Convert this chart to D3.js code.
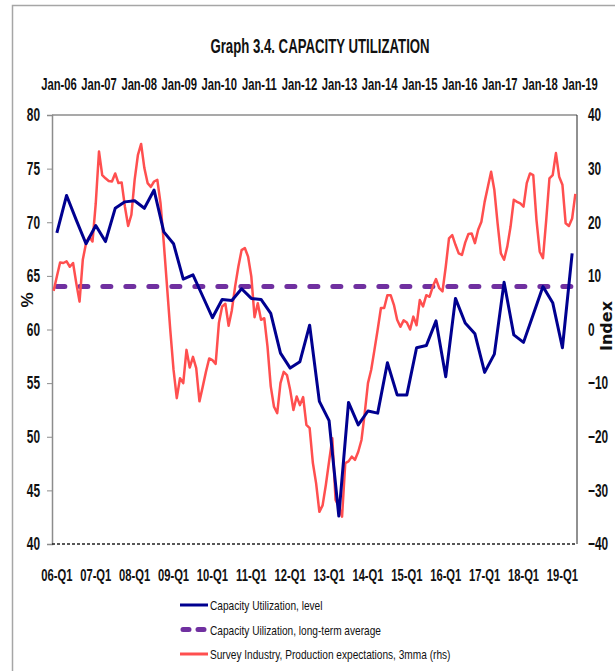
<!DOCTYPE html>
<html lang="en">
<head>
<meta charset="utf-8">
<title>Graph 3.4. Capacity utilization</title>
<script src="https://d3js.org/d3.v7.min.js"></script>
<style>
  body { margin: 0; background: #fff; }
  text { font-family: "Liberation Sans", Arial, sans-serif; fill: #111; }
</style>
</head>
<body>
<div class="chart"></div>
<script>
// quarter and month categories (06-Q1 .. 19-Q2, Jan-06 .. Jun-19)
const quarters = [];
const months = [];
for (let y = 6; y <= 19; y++) {
  const yy = String(y).padStart(2, '0');
  for (let q = 1; q <= 4; q++) quarters.push(yy + '-Q' + q);
  for (let m = 1; m <= 12; m++) months.push(yy + '-' + m);
}
quarters.splice(54);
months.splice(162);

const bottomTicks = ['06-Q1','07-Q1','08-Q1','09-Q1','10-Q1','11-Q1','12-Q1','13-Q1','14-Q1','15-Q1','16-Q1','17-Q1','18-Q1','19-Q1'];
const topTicks = ['Jan-06','Jan-07','Jan-08','Jan-09','Jan-10','Jan-11','Jan-12','Jan-13','Jan-14','Jan-15','Jan-16','Jan-17','Jan-18','Jan-19'];
const leftTicks = [40, 45, 50, 55, 60, 65, 70, 75, 80];
const rightTicks = [-40, -30, -20, -10, 0, 10, 20, 30, 40];

// Capacity utilization, level (%), quarterly
const capacityLevel = [
  69.0, 72.5, 70.2, 68.0, 69.7, 68.2, 71.3, 71.9, 72.0, 71.3, 73.0, 69.1, 68.0, 64.7,
  65.1, 63.1, 61.1, 62.8, 62.7, 63.8, 62.9, 62.8, 61.5, 57.8, 56.4, 57.0, 60.4, 53.3,
  51.5, 42.6, 53.2, 51.1, 52.4, 52.2, 56.9, 53.9, 53.9, 58.3, 58.5, 60.8, 55.6, 62.9,
  60.6, 59.6, 56.0, 57.7, 64.4, 59.5, 58.8, 61.4, 64.0, 62.5, 58.3, 67.1
];
// long-term average (%)
const capacityAverage = 64;

// Survey industry, production expectations, 3mma (index, rhs), monthly
const productionExpectations = [
  7.2, 9.9, 12.5, 12.4, 12.7, 11.7, 12.4, 8.6, 5.2, 13.0, 16.1, 17.3,
  16.4, 23.5, 33.2, 28.8, 28.2, 27.7, 27.6, 29.1, 27.3, 27.4, 22.9, 19.3,
  21.4, 27.9, 32.5, 34.6, 30.1, 27.3, 26.6, 27.6, 27.9, 23.5, 16.1, 8.0,
  -0.1, -7.5, -12.8, -9.1, -10.0, -3.8, -7.1, -5.1, -7.2, -13.4, -10.7, -7.9,
  -5.4, -5.7, -6.4, 1.2, 4.3, 4.8, 0.7, 3.6, 8.0, 11.7, 14.8, 15.2,
  13.6, 9.9, 2.3, 4.9, 1.8, 2.1, -3.2, -10.6, -14.4, -15.6, -10.0, -7.9,
  -8.5, -11.3, -15.0, -12.5, -14.1, -12.6, -17.8, -18.4, -24.9, -28.7, -34.0, -32.8,
  -29.0, -24.6, -20.3, -31.8, -33.0, -34.9, -24.9, -24.6, -23.7, -24.3, -22.8, -20.6,
  -15.6, -10.0, -7.5, -3.8, 0.0, 4.0, 4.0, 6.4, 6.4, 4.6, 1.8, 0.5,
  1.7, 1.3, 0.0, 2.4, 0.8, 5.5, 4.3, 6.4, 6.1, 8.0, 9.4, 7.7,
  7.1, 11.7, 17.0, 17.6, 15.8, 14.2, 13.9, 16.2, 17.8, 17.9, 16.1, 18.6,
  20.1, 23.8, 26.6, 29.4, 26.0, 19.8, 14.2, 13.0, 15.5, 19.2, 24.2, 23.8,
  23.5, 22.9, 27.3, 29.1, 28.8, 20.4, 14.5, 13.3, 20.4, 28.2, 28.8, 32.9,
  28.5, 27.0, 19.8, 19.3, 20.7, 25.3
];

const width = 615;
const height = 671;
const plot = {left: 52, right: 577, top: 115, bottom: 544};
const SX = 0.66;   // text in the original is squeezed horizontally
const SXL = 0.75;  // legend text

const svg = d3.select('.chart')
  .append('svg')
  .attr('width', width)
  .attr('height', height);

const xQ = d3.scaleBand().domain(quarters).range([plot.left, plot.right]);
const xM = d3.scaleBand().domain(months).range([plot.left, plot.right]);
const xTop = d3.scalePoint().domain(topTicks).range([59, 580]);
const yL = d3.scaleLinear().domain([40, 80]).range([plot.bottom, plot.top]);
const yR = d3.scaleLinear().domain([-40, 40]).range([plot.bottom, plot.top]);

function addText(x, y, str, size, weight, anchor, sx) {
  return svg.append('text')
    .attr('transform', `translate(${x},${y}) scale(${sx || SX},1)`)
    .attr('text-anchor', anchor || 'start')
    .style('font-size', size + 'px')
    .style('font-weight', weight || 'normal')
    .text(str);
}

function styleTicks(sel) {
  sel.attr('transform', `scale(${SX},1)`)
    .style('font-weight', 'bold')
    .style('font-family', '"Liberation Sans", Arial, sans-serif')
    .attr('fill', '#111');
}

// outer frame
svg.append('path')
  .attr('d', 'M12.5,671V5.5H615')
  .attr('fill', 'none')
  .attr('stroke', '#a6a6a6')
  .attr('stroke-width', 1.5);

addText(320, 53, 'Graph 3.4. CAPACITY UTILIZATION', 20, 'bold', 'middle');

// top labels
topTicks.forEach(t => addText(xTop(t), 90, t, 17, 'bold', 'middle'));

// plot frame: top gray, right dark
svg.append('line')
  .attr('x1', plot.left).attr('x2', plot.right)
  .attr('y1', plot.top).attr('y2', plot.top)
  .attr('stroke', '#8c8c8c').attr('stroke-width', 1.5);
svg.append('line')
  .attr('x1', plot.right).attr('x2', plot.right)
  .attr('y1', plot.top).attr('y2', plot.bottom)
  .attr('stroke', '#222').attr('stroke-width', 1);

// left axis
const gL = svg.append('g')
  .attr('transform', `translate(${plot.left},0)`)
  .call(d3.axisLeft(yL).tickValues(leftTicks).tickSize(5).tickPadding(7));
gL.select('.domain').attr('stroke', '#8c8c8c').attr('stroke-width', 1.5);
gL.selectAll('.tick line').attr('stroke', '#8c8c8c');
gL.selectAll('.tick text')
  .call(styleTicks)
  .attr('x', -12 / SX)
  .style('font-size', '18px');

// right axis
const gR = svg.append('g')
  .attr('transform', `translate(${plot.right},0)`)
  .call(d3.axisRight(yR).tickValues(rightTicks).tickSize(0).tickPadding(11));
gR.select('.domain').remove();
gR.selectAll('.tick text')
  .call(styleTicks)
  .attr('x', 11 / SX)
  .style('font-size', '18px');

// bottom axis (category labels)
const gB = svg.append('g')
  .attr('transform', `translate(0,${plot.bottom})`)
  .call(d3.axisBottom(xQ).tickValues(bottomTicks).tickSize(0).tickPadding(0));
gB.select('.domain').remove();
gB.selectAll('.tick text')
  .call(styleTicks)
  .attr('y', 37)
  .attr('dy', 0)
  .style('font-size', '17px');

// baseline, dashed
svg.append('line')
  .attr('x1', plot.left).attr('x2', plot.right)
  .attr('y1', plot.bottom).attr('y2', plot.bottom)
  .attr('stroke', '#222').attr('stroke-width', 1.5)
  .attr('stroke-dasharray', '3,2');

// axis titles
svg.append('text')
  .attr('transform', 'translate(33,300) rotate(-90)')
  .attr('text-anchor', 'middle')
  .style('font-size', '17px').style('font-weight', 'bold')
  .text('%');
svg.append('text')
  .attr('transform', 'translate(612,326) rotate(-90)')
  .attr('text-anchor', 'middle')
  .style('font-size', '16px').style('font-weight', 'bold')
  .style('font-family', '"DejaVu Sans", sans-serif')
  .text('Index');

// series
const redLine = d3.line()
  .x((d, i) => xM(months[i]) + xM.bandwidth() / 2)
  .y(d => yR(d));
const blueLine = d3.line()
  .x((d, i) => xQ(quarters[i]) + xQ.bandwidth() / 2)
  .y(d => yL(d));

svg.append('line')
  .attr('x1', xQ(quarters[0]) + xQ.bandwidth() / 2)
  .attr('x2', xQ(quarters[quarters.length - 1]) + xQ.bandwidth() / 2)
  .attr('y1', yL(capacityAverage)).attr('y2', yL(capacityAverage))
  .attr('stroke', '#7030a0').attr('stroke-width', 5)
  .attr('stroke-linecap', 'round')
  .attr('stroke-dasharray', '8,15');

svg.append('path')
  .datum(productionExpectations)
  .attr('d', redLine)
  .attr('fill', 'none')
  .attr('stroke', '#ff4f4f')
  .attr('stroke-width', 2.5)
  .attr('stroke-linejoin', 'round');

svg.append('path')
  .datum(capacityLevel)
  .attr('d', blueLine)
  .attr('fill', 'none')
  .attr('stroke', '#000090')
  .attr('stroke-width', 3)
  .attr('stroke-linejoin', 'round');

// legend
const legend = [
  {label: 'Capacity Utilization, level', color: '#000090', dash: null, width: 3},
  {label: 'Capacity Uilization, long-term average', color: '#7030a0', dash: '6,9', width: 5},
  {label: 'Survey Industry, Production expectations, 3mma (rhs)', color: '#ff4f4f', dash: null, width: 3}
];
legend.forEach((d, i) => {
  const y = 605 + i * 24.5;
  svg.append('line')
    .attr('x1', d.dash ? 183 : 180).attr('x2', d.dash ? 206 : 208)
    .attr('y1', y).attr('y2', y)
    .attr('stroke', d.color).attr('stroke-width', d.width)
    .attr('stroke-linecap', d.dash ? 'round' : 'butt')
    .attr('stroke-dasharray', d.dash);
  addText(210, y + 5, d.label, 13.5, 'normal', 'start', SXL);
});
</script>
</body>
</html>
